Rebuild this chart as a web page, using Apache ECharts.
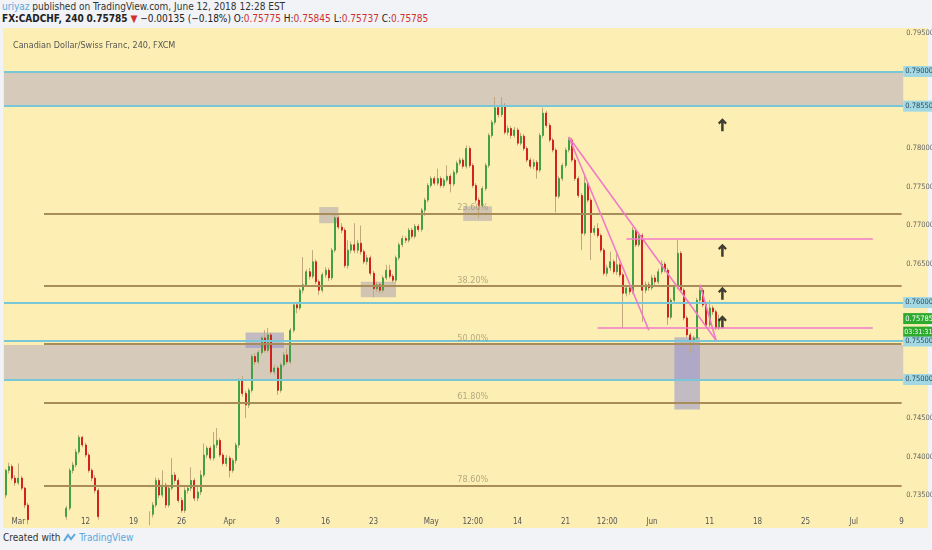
<!DOCTYPE html>
<html lang="en">
<head>
<meta charset="UTF-8">
<title>CADCHF 240</title>
<style>
  body { margin: 0; background: #f1f3f7; font-family: 'Liberation Sans Narrow', 'DejaVu Sans Condensed', 'Liberation Sans', sans-serif; }
  .wrap { position: relative; width: 932px; height: 550px; overflow: hidden; }
  .hd1 { position: absolute; left: 2px; top: 1px; font-size: 10px; color: #333; white-space: nowrap; }
  .hd1 .user { color: #5aa8dc; }
  .hd2 { position: absolute; left: 2px; top: 13px; font-size: 10px; color: #222; white-space: nowrap; }
  .hd2 b { font-weight: bold; }
  .hd2 .red { color: #d0312d; }
  .foot { position: absolute; left: 3px; top: 532px; font-size: 10px; color: #333; white-space: nowrap; }
  .foot .tv { color: #5aa8dc; }
  #chart { position: absolute; left: 3px; top: 28px; width: 929px; height: 500px;
           background: linear-gradient(to right, #fdefb3 925px, #f1f3f7 925px); }
</style>
</head>
<body>
<div class="wrap">
  <div class="hd1"><span class="user">uriyaz</span> published on TradingView.com, June 12, 2018 12:28 EST</div>
  <div class="hd2"><b>FX:CADCHF, 240</b> <b>0.75785</b> <span class="red">&#9660;</span> &minus;0.00135 (&minus;0.18%) O:<span class="red">0.75775</span> H:<span class="red">0.75845</span> L:<span class="red">0.75737</span> C:<span class="red">0.75785</span></div>
  <div id="chart"></div>
  <div class="foot">Created with <svg width="13" height="9" viewBox="0 0 13 9" style="vertical-align:-1px"><path d="M1,8 L5,2 L8,6 L12,1" stroke="#5aa8dc" stroke-width="2" fill="none"/></svg> <span class="tv">TradingView</span></div>
</div>
<script src="https://cdn.jsdelivr.net/npm/echarts@6/dist/echarts.min.js"></script>
<script>
// 8h candles, first one is the last slot of Feb 27; [open, close, low, high]
var candles = [
  [0.7350,0.7382,0.7346,0.7384],[0.7382,0.7387,0.7378,0.7392],[0.7387,0.7372,0.7369,0.7390],
  [0.7372,0.7366,0.7362,0.7376],[0.7366,0.7372,0.7363,0.7391],[0.7372,0.7359,0.7356,0.7375],
  [0.7359,0.7337,0.7333,0.7361],[0.7337,0.7318,0.7312,0.7340],[0.7318,0.7305,0.7298,0.7322],
  [0.7305,0.7296,0.7290,0.7310],[0.7296,0.7302,0.7291,0.7308],[0.7302,0.7292,0.7287,0.7306],
  [0.7292,0.7285,0.7280,0.7297],[0.7285,0.7294,0.7282,0.7298],[0.7294,0.7288,0.7284,0.7299],
  [0.7288,0.7298,0.7285,0.7303],[0.7298,0.7306,0.7294,0.7311],[0.7306,0.7315,0.7302,0.7320],
  [0.7315,0.7322,0.7310,0.7326],[0.7322,0.7333,0.7318,0.7336],[0.7333,0.7382,0.7330,0.7385],
  [0.7382,0.7389,0.7378,0.7393],[0.7389,0.7406,0.7386,0.7410],[0.7406,0.7425,0.7403,0.7428],
  [0.7425,0.7415,0.7412,0.7427],[0.7415,0.7402,0.7399,0.7418],[0.7402,0.7382,0.7379,0.7405],
  [0.7382,0.7372,0.7368,0.7385],[0.7372,0.7356,0.7352,0.7376],[0.7356,0.7322,0.7318,0.7359],
  [0.7322,0.7305,0.7300,0.7326],[0.7305,0.7290,0.7285,0.7309],[0.7290,0.7280,0.7275,0.7295],
  [0.7280,0.7270,0.7266,0.7284],[0.7270,0.7262,0.7257,0.7275],[0.7262,0.7255,0.7250,0.7266],
  [0.7255,0.7248,0.7243,0.7259],[0.7248,0.7240,0.7236,0.7252],[0.7240,0.7236,0.7230,0.7245],
  [0.7236,0.7245,0.7232,0.7249],[0.7245,0.7258,0.7242,0.7262],[0.7258,0.7270,0.7254,0.7274],
  [0.7270,0.7285,0.7266,0.7289],[0.7285,0.7300,0.7281,0.7304],[0.7300,0.7315,0.7296,0.7319],
  [0.7315,0.7325,0.7311,0.7329],[0.7325,0.7337,0.7321,0.7341],[0.7337,0.7369,0.7334,0.7373],
  [0.7369,0.7350,0.7346,0.7372],[0.7350,0.7363,0.7347,0.7382],[0.7363,0.7337,0.7333,0.7366],
  [0.7337,0.7359,0.7334,0.7362],[0.7359,0.7376,0.7356,0.7398],[0.7376,0.7369,0.7365,0.7380],
  [0.7369,0.7343,0.7340,0.7372],[0.7343,0.7330,0.7327,0.7347],[0.7330,0.7356,0.7327,0.7360],
  [0.7356,0.7359,0.7352,0.7363],[0.7359,0.7369,0.7355,0.7386],[0.7369,0.7346,0.7342,0.7372],
  [0.7346,0.7354,0.7342,0.7363],[0.7354,0.7376,0.7350,0.7382],[0.7376,0.7402,0.7373,0.7417],
  [0.7402,0.7411,0.7398,0.7414],[0.7411,0.7398,0.7395,0.7414],[0.7398,0.7415,0.7395,0.7432],
  [0.7415,0.7421,0.7411,0.7437],[0.7421,0.7402,0.7399,0.7424],[0.7402,0.7391,0.7388,0.7405],
  [0.7391,0.7398,0.7387,0.7402],[0.7398,0.7382,0.7373,0.7401],[0.7382,0.7395,0.7379,0.7398],
  [0.7395,0.7415,0.7391,0.7418],[0.7415,0.7499,0.7411,0.7502],[0.7499,0.7482,0.7478,0.7505],
  [0.7482,0.7467,0.7450,0.7485],[0.7467,0.7486,0.7463,0.7489],[0.7486,0.7530,0.7483,0.7533],
  [0.7530,0.7523,0.7519,0.7534],[0.7523,0.7535,0.7520,0.7538],[0.7535,0.7554,0.7532,0.7557],
  [0.7554,0.7538,0.7535,0.7564],[0.7538,0.7558,0.7535,0.7567],[0.7558,0.7510,0.7507,0.7561],
  [0.7510,0.7515,0.7506,0.7519],[0.7515,0.7486,0.7480,0.7518],[0.7486,0.7519,0.7483,0.7522],
  [0.7519,0.7532,0.7516,0.7536],[0.7532,0.7523,0.7520,0.7540],[0.7523,0.7564,0.7520,0.7567],
  [0.7564,0.7597,0.7561,0.7600],[0.7597,0.7593,0.7586,0.7601],[0.7593,0.7616,0.7590,0.7619],
  [0.7616,0.7623,0.7612,0.7659],[0.7623,0.7640,0.7620,0.7643],[0.7640,0.7634,0.7630,0.7645],
  [0.7634,0.7653,0.7631,0.7668],[0.7653,0.7627,0.7624,0.7656],[0.7627,0.7616,0.7610,0.7630],
  [0.7616,0.7636,0.7613,0.7639],[0.7636,0.7642,0.7632,0.7646],[0.7642,0.7632,0.7628,0.7645],
  [0.7632,0.7668,0.7629,0.7671],[0.7668,0.7710,0.7665,0.7715],[0.7710,0.7698,0.7695,0.7713],
  [0.7698,0.7694,0.7690,0.7703],[0.7694,0.7648,0.7645,0.7697],[0.7648,0.7668,0.7644,0.7681],
  [0.7668,0.7675,0.7664,0.7679],[0.7675,0.7668,0.7664,0.7703],[0.7668,0.7677,0.7664,0.7681],
  [0.7677,0.7666,0.7662,0.7700],[0.7666,0.7653,0.7650,0.7669],[0.7653,0.7658,0.7649,0.7662],
  [0.7658,0.7638,0.7635,0.7661],[0.7638,0.7618,0.7607,0.7641],[0.7618,0.7623,0.7614,0.7627],
  [0.7623,0.7616,0.7612,0.7626],[0.7616,0.7632,0.7613,0.7635],[0.7632,0.7642,0.7629,0.7649],
  [0.7642,0.7634,0.7631,0.7649],[0.7634,0.7629,0.7626,0.7637],[0.7629,0.7658,0.7626,0.7661],
  [0.7658,0.7675,0.7655,0.7678],[0.7675,0.7683,0.7672,0.7687],[0.7683,0.7681,0.7677,0.7686],
  [0.7681,0.7694,0.7678,0.7697],[0.7694,0.7686,0.7683,0.7697],[0.7686,0.7699,0.7683,0.7702],
  [0.7699,0.7695,0.7692,0.7702],[0.7695,0.7720,0.7692,0.7723],[0.7720,0.7733,0.7713,0.7736],
  [0.7733,0.7752,0.7730,0.7755],[0.7752,0.7761,0.7749,0.7764],[0.7761,0.7755,0.7752,0.7764],
  [0.7755,0.7761,0.7752,0.7774],[0.7761,0.7752,0.7749,0.7764],[0.7752,0.7759,0.7749,0.7762],
  [0.7759,0.7764,0.7756,0.7778],[0.7764,0.7754,0.7743,0.7767],[0.7754,0.7769,0.7751,0.7772],
  [0.7769,0.7781,0.7766,0.7784],[0.7781,0.7785,0.7778,0.7788],[0.7785,0.7777,0.7774,0.7788],
  [0.7777,0.7800,0.7774,0.7804],[0.7800,0.7778,0.7775,0.7803],[0.7778,0.7752,0.7749,0.7781],
  [0.7752,0.7733,0.7729,0.7755],[0.7733,0.7726,0.7710,0.7737],[0.7726,0.7748,0.7723,0.7751],
  [0.7748,0.7778,0.7745,0.7781],[0.7778,0.7817,0.7775,0.7820],[0.7817,0.7834,0.7814,0.7837],
  [0.7834,0.7853,0.7831,0.7867],[0.7853,0.7844,0.7840,0.7856],[0.7844,0.7856,0.7841,0.7867],
  [0.7856,0.7821,0.7818,0.7859],[0.7821,0.7826,0.7817,0.7830],[0.7826,0.7817,0.7813,0.7829],
  [0.7817,0.7824,0.7814,0.7828],[0.7824,0.7807,0.7804,0.7827],[0.7807,0.7816,0.7804,0.7820],
  [0.7816,0.7800,0.7797,0.7819],[0.7800,0.7785,0.7782,0.7803],[0.7785,0.7777,0.7774,0.7788],
  [0.7777,0.7782,0.7773,0.7786],[0.7782,0.7772,0.7761,0.7785],[0.7772,0.7817,0.7769,0.7820],
  [0.7817,0.7846,0.7814,0.7853],[0.7846,0.7830,0.7827,0.7849],[0.7830,0.7811,0.7808,0.7833],
  [0.7811,0.7798,0.7795,0.7814],[0.7798,0.7738,0.7717,0.7801],[0.7738,0.7761,0.7735,0.7764],
  [0.7761,0.7778,0.7758,0.7781],[0.7778,0.7798,0.7775,0.7801],[0.7798,0.7811,0.7795,0.7815],
  [0.7811,0.7785,0.7782,0.7814],[0.7785,0.7761,0.7758,0.7788],[0.7761,0.7739,0.7736,0.7764],
  [0.7739,0.7690,0.7668,0.7742],[0.7690,0.7755,0.7687,0.7765],[0.7755,0.7733,0.7730,0.7758],
  [0.7733,0.7691,0.7655,0.7736],[0.7691,0.7696,0.7687,0.7700],[0.7696,0.7687,0.7684,0.7703],
  [0.7687,0.7668,0.7665,0.7690],[0.7668,0.7638,0.7635,0.7671],[0.7638,0.7645,0.7634,0.7649],
  [0.7645,0.7653,0.7641,0.7666],[0.7653,0.7640,0.7637,0.7656],[0.7640,0.7649,0.7636,0.7664],
  [0.7649,0.7636,0.7633,0.7652],[0.7636,0.7612,0.7567,0.7639],[0.7612,0.7619,0.7608,0.7622],
  [0.7619,0.7614,0.7610,0.7623],[0.7614,0.7694,0.7611,0.7698],[0.7694,0.7675,0.7672,0.7697],
  [0.7675,0.7687,0.7672,0.7690],[0.7687,0.7616,0.7575,0.7690],[0.7616,0.7623,0.7612,0.7627],
  [0.7623,0.7619,0.7615,0.7627],[0.7619,0.7632,0.7616,0.7636],[0.7632,0.7627,0.7623,0.7636],
  [0.7627,0.7640,0.7624,0.7644],[0.7640,0.7650,0.7637,0.7655],[0.7650,0.7642,0.7639,0.7653],
  [0.7642,0.7581,0.7571,0.7645],[0.7581,0.7603,0.7578,0.7606],[0.7603,0.7620,0.7600,0.7623],
  [0.7620,0.7664,0.7617,0.7681],[0.7664,0.7616,0.7613,0.7667],[0.7616,0.7580,0.7577,0.7619],
  [0.7580,0.7558,0.7555,0.7583],[0.7558,0.7551,0.7535,0.7561],[0.7551,0.7554,0.7535,0.7557],
  [0.7554,0.7603,0.7551,0.7606],[0.7603,0.7616,0.7600,0.7623],[0.7616,0.7597,0.7594,0.7619],
  [0.7597,0.7571,0.7568,0.7600],[0.7571,0.7593,0.7568,0.7603],[0.7593,0.7588,0.7584,0.7596],
  [0.7588,0.7567,0.7564,0.7591],[0.7567,0.75785,0.7564,0.75845]
];

// axis
var totalSlots = 281;
var tickLabels = [
  ['2018-03-01 00:00', 'Mar'], ['2018-03-12 00:00', '12'], ['2018-03-19 00:00', '19'],
  ['2018-03-26 00:00', '26'], ['2018-04-02 00:00', 'Apr'], ['2018-04-09 00:00', '9'],
  ['2018-04-16 00:00', '16'], ['2018-04-23 00:00', '23'], ['2018-05-01 00:00', 'May'],
  ['2018-05-07 08:00', '12:00'], ['2018-05-14 00:00', '14'], ['2018-05-21 00:00', '21'],
  ['2018-05-25 08:00', '12:00'], ['2018-06-01 00:00', 'Jun'], ['2018-06-11 00:00', '11'],
  ['2018-06-18 00:00', '18'], ['2018-06-25 00:00', '25'], ['2018-07-02 00:00', 'Jul'],
  ['2018-07-09 00:00', '9']
];
var priceLabels = [0.735, 0.740, 0.745, 0.765, 0.770, 0.775, 0.780, 0.795];

// drawings
var cyanLevels = [0.7900, 0.7855, 0.7600, 0.7550, 0.7500];
var zones = [[0.7855, 0.7900], [0.7500, 0.7545]];
var fibHigh = 0.7867, fibLow = 0.7225;
var fibRatios = [0.236, 0.382, 0.5, 0.618, 0.786];
var fibStart = 12, fibEnd = 280;
// [slotFrom, priceTop, slotTo, priceBottom, blue?]
var boxes = [
  [75, 0.7561, 87, 0.7541, true],
  [98, 0.7724, 104, 0.7703, false],
  [111, 0.7627, 122, 0.7607, false],
  [143, 0.7725, 152, 0.7706, false],
  [209, 0.7555, 217, 0.7461, true]
];
// [slot1, price1, slot2, price2]
var pinkLines = [
  [176, 0.7815, 201, 0.7564],
  [176, 0.7815, 222, 0.7551],
  [217, 0.7623, 222, 0.7551],
  [194, 0.7683, 271, 0.7683],
  [185, 0.7567, 271, 0.7567]
];
var arrows = [[224, 0.7831], [224, 0.7668], [224, 0.7612], [224, 0.7575]];
var lastPrice = 0.75785, countdown = '03:31:31';

// build slot names (3 x 8h per weekday)
var categories = ['2018-02-27 16:00'];
var day = new Date(Date.UTC(2018, 1, 28));
while (categories.length < totalSlots) {
  var wd = day.getUTCDay();
  if (wd !== 0 && wd !== 6) {
    var ds = day.toISOString().slice(0, 10);
    ['00:00', '08:00', '16:00'].forEach(function (h) { categories.push(ds + ' ' + h); });
  }
  day.setUTCDate(day.getUTCDate() + 1);
}
categories = categories.slice(0, totalSlots);
var tickMap = {};
tickLabels.forEach(function (t) { tickMap[t[0]] = t[1]; });

var bodies = candles.map(function (c) {
  return [c[0], c[1], Math.min(c[0], c[1]), Math.max(c[0], c[1])];
});

var FONT = "'Liberation Sans Narrow', 'DejaVu Sans Condensed', sans-serif";
var WICK = '#c2a77c';
var arrowPath = 'path://M5,0 L10,5 L8.2,6.8 L6.4,5 L6.4,14 L3.6,14 L3.6,5 L1.8,6.8 L0,5 Z';

var myChart = echarts.init(document.getElementById('chart'));
myChart.setOption({
  animation: false,
  textStyle: { fontFamily: FONT },
  title: {
    text: 'Canadian Dollar/Swiss Franc, 240, FXCM',
    left: 5, top: 8,
    textStyle: { fontSize: 9, fontWeight: 'normal', color: '#555', fontFamily: FONT }
  },
  grid: { left: 1, top: 0, right: 28.8, bottom: 16, containLabel: false, outerBoundsMode: 'none' },
  xAxis: {
    type: 'category',
    data: categories,
    axisLine: { show: false },
    axisTick: { show: false },
    splitLine: { show: false },
    axisLabel: {
      fontSize: 8, color: '#555', margin: 6, fontFamily: FONT,
      interval: function (i, v) { return tickMap[v] !== undefined; },
      formatter: function (v) { return tickMap[v] || ''; }
    }
  },
  yAxis: {
    type: 'value',
    position: 'right',
    min: 0.7328,
    max: 0.79565,
    axisLine: { show: false },
    axisTick: { show: false },
    splitLine: { show: false },
    axisLabel: {
      customValues: priceLabels,
      fontSize: 7.5, color: '#666', margin: 3, fontFamily: FONT,
      formatter: function (v) { return v.toFixed(5); }
    }
  },
  series: [
    {
      name: 'wicks',
      type: 'candlestick',
      data: candles,
      barWidth: 1,
      clip: true,
      itemStyle: { color: WICK, color0: WICK, borderColor: WICK, borderColor0: WICK, borderWidth: 1 },
      markArea: {
        silent: true,
        data: zones.map(function (z) {
          return [{ yAxis: z[0], itemStyle: { color: 'rgba(175,165,195,0.5)' } }, { yAxis: z[1] }];
        }).concat(boxes.map(function (b) {
          return [{
            coord: [b[0], b[1]],
            itemStyle: { color: b[4] ? 'rgba(135,135,210,0.5)' : 'rgba(165,155,175,0.5)' }
          }, { coord: [b[2], b[3]] }];
        }))
      },
      markLine: {
        silent: true,
        symbol: 'none',
        precision: 6,
        lineStyle: { type: 'solid', color: '#79c6d6', width: 2 },
        label: {
          position: 'end', distance: 0, fontSize: 7.5, color: '#2e4c58', fontFamily: FONT,
          backgroundColor: '#a1d8e4', padding: [2, 1, 1, 2],
          formatter: function (p) { return p.value.toFixed(5); }
        },
        data: cyanLevels.map(function (v) { return { yAxis: v }; })
      }
    },
    {
      name: 'bodies',
      type: 'candlestick',
      data: bodies,
      barWidth: 1.4,
      clip: true,
      itemStyle: { color: '#43a047', color0: '#d3221d', borderColor: '#43a047', borderColor0: '#d3221d', borderWidth: 1 },
      markLine: {
        silent: true,
        symbol: 'none',
        precision: 6,
        lineStyle: { type: 'solid', color: '#a88d5a', width: 2 },
        label: {
          position: 'insideMiddleTop', distance: 1, fontSize: 9, fontFamily: FONT,
          color: 'rgba(150,140,110,0.7)'
        },
        data: fibRatios.map(function (r) {
          var v = fibHigh - r * (fibHigh - fibLow);
          return [{ coord: [fibStart, v], label: { formatter: (r * 100).toFixed(2) + '%' } }, { coord: [fibEnd, v] }];
        })
      }
    },
    {
      name: 'arrows',
      type: 'scatter',
      data: arrows,
      symbol: arrowPath,
      symbolSize: [9, 13],
      itemStyle: { color: '#111' },
      silent: true,
      markLine: {
        silent: true,
        symbol: 'none',
        precision: 6,
        label: { show: false },
        lineStyle: { type: 'solid', color: '#f07ac8', width: 1.6 },
        data: pinkLines.map(function (l) {
          return [{ coord: [l[0], l[1]] }, { coord: [l[2], l[3]] }];
        })
      }
    },
    {
      name: 'last',
      type: 'line',
      data: [],
      silent: true,
      markLine: {
        silent: true,
        symbol: 'none',
        precision: 6,
        lineStyle: { type: 'solid', color: 'rgba(0,0,0,0)', width: 1 },
        label: {
          position: 'end', distance: 0, offset: [0, 6],
          formatter: '{a|' + lastPrice.toFixed(5) + '}\n{b|' + countdown + '}',
          rich: {
            a: { backgroundColor: '#2eaa2e', color: '#fff', fontSize: 7.5,
                 padding: [2, 1, 1, 2], lineHeight: 13, fontFamily: FONT },
            b: { backgroundColor: '#2eaa2e', color: '#fff', fontSize: 7,
                 padding: [2, 1, 1, 1], lineHeight: 13, fontFamily: FONT }
          }
        },
        data: [{ yAxis: lastPrice }]
      }
    }
  ]
});
</script>
</body>
</html>
